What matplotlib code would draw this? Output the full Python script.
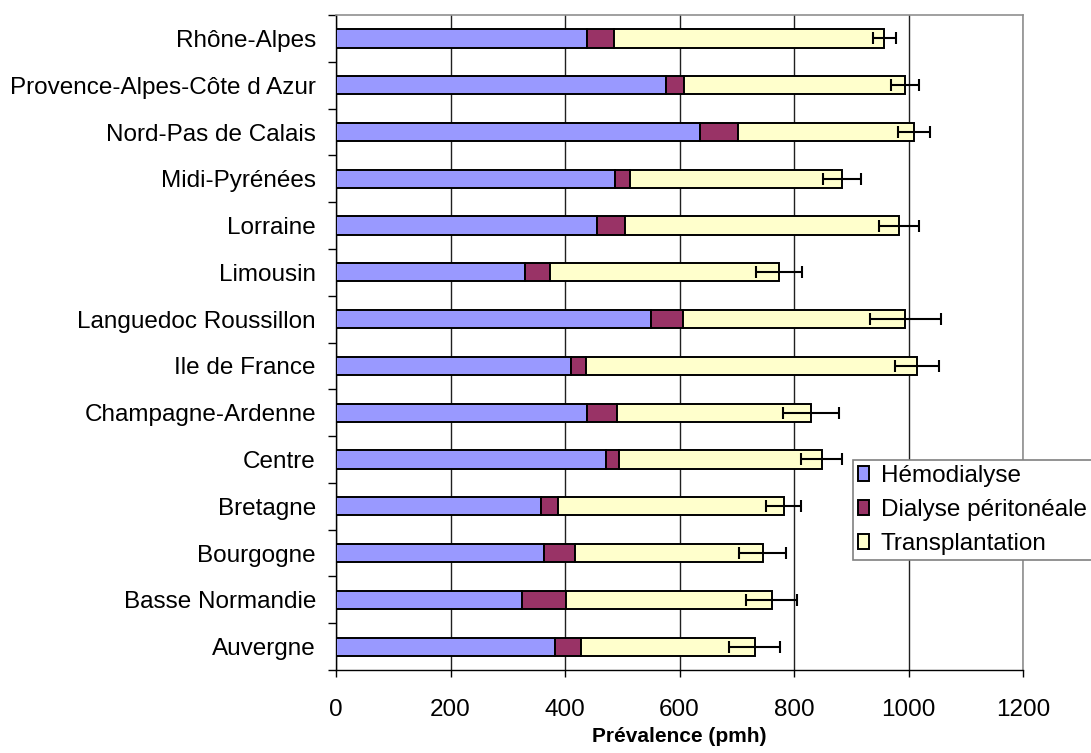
import numpy as np
import matplotlib
matplotlib.use('Agg')
import matplotlib.pyplot as plt

plt.rcParams['font.family'] = ['Liberation Sans', 'DejaVu Sans']

# regions, bottom to top
regions = ['Auvergne', 'Basse Normandie', 'Bourgogne', 'Bretagne', 'Centre',
           'Champagne-Ardenne', 'Ile de France', 'Languedoc Roussillon',
           'Limousin', 'Lorraine', 'Midi-Pyrénées', 'Nord-Pas de Calais',
           'Provence-Alpes-Côte d Azur', 'Rhône-Alpes']
hemo = [383, 325, 364, 358, 471, 438, 410, 551, 330, 455, 487, 635, 577, 439]
dp = [45, 77, 54, 29, 23, 53, 27, 55, 44, 50, 26, 67, 30, 47]
transp = [303, 359, 327, 395, 354, 339, 578, 388, 400, 479, 371, 307, 387, 472]
err = [44, 45, 41, 31, 35, 49, 39, 62, 40, 35, 33, 28, 25, 20]

hemo = np.array(hemo)
dp = np.array(dp)
transp = np.array(transp)
total = hemo + dp + transp
y = np.arange(len(regions))

fig = plt.figure(figsize=(10.91, 7.53), dpi=100)
ax = fig.add_axes([0.308, 0.1102, 0.6297, 0.8698])

h = 0.39
ax.barh(y, hemo, h, color='#9999FF', edgecolor='black', lw=1.4, label='Hémodialyse', zorder=3)
ax.barh(y, dp, h, left=hemo, color='#993366', edgecolor='black', lw=1.4,
        label='Dialyse péritonéale', zorder=3)
ax.barh(y, transp, h, left=hemo + dp, color='#FFFFCC', edgecolor='black', lw=1.4,
        label='Transplantation', zorder=3)
ax.errorbar(total, y, xerr=err, fmt='none', ecolor='black', elinewidth=1.5,
            capsize=4, capthick=1.5, zorder=4)

ax.set_xlim(0, 1200)
ax.set_ylim(-0.5, len(regions) - 0.5)
ax.set_xticks(np.arange(0, 1201, 200))
ax.set_yticks(y)
ax.set_yticklabels(regions)
ax.set_yticks(np.arange(-0.5, len(regions), 1), minor=True)
ax.tick_params(axis='y', which='major', length=0, pad=14.5, labelsize=17.5)
ax.tick_params(axis='y', which='minor', length=5.8, width=1, direction='out')
ax.tick_params(axis='x', length=5, width=1, direction='out', pad=16, labelsize=17.5)
ax.xaxis.grid(True, color='#202020', lw=1)
ax.set_axisbelow(True)

for s in ['top', 'right']:
    ax.spines[s].set_color('#909090')
    ax.spines[s].set_linewidth(1.2)
for s in ['left', 'bottom']:
    ax.spines[s].set_color('black')
    ax.spines[s].set_linewidth(1)

ax.set_xlabel('Prévalence (pmh)', fontsize=15, fontweight='bold', labelpad=4)

leg = ax.legend(loc='upper left', bbox_to_anchor=(853 / 1091, 1 - 460 / 753),
                bbox_transform=fig.transFigure, fontsize=17.5, frameon=True,
                fancybox=False, framealpha=1, edgecolor='#808080',
                handlelength=0.45, handleheight=0.6, handletextpad=0.5,
                labelspacing=0.5, borderpad=0.2, borderaxespad=0)
leg.get_frame().set_linewidth(1.2)

fig.savefig('out.png', dpi=100)
